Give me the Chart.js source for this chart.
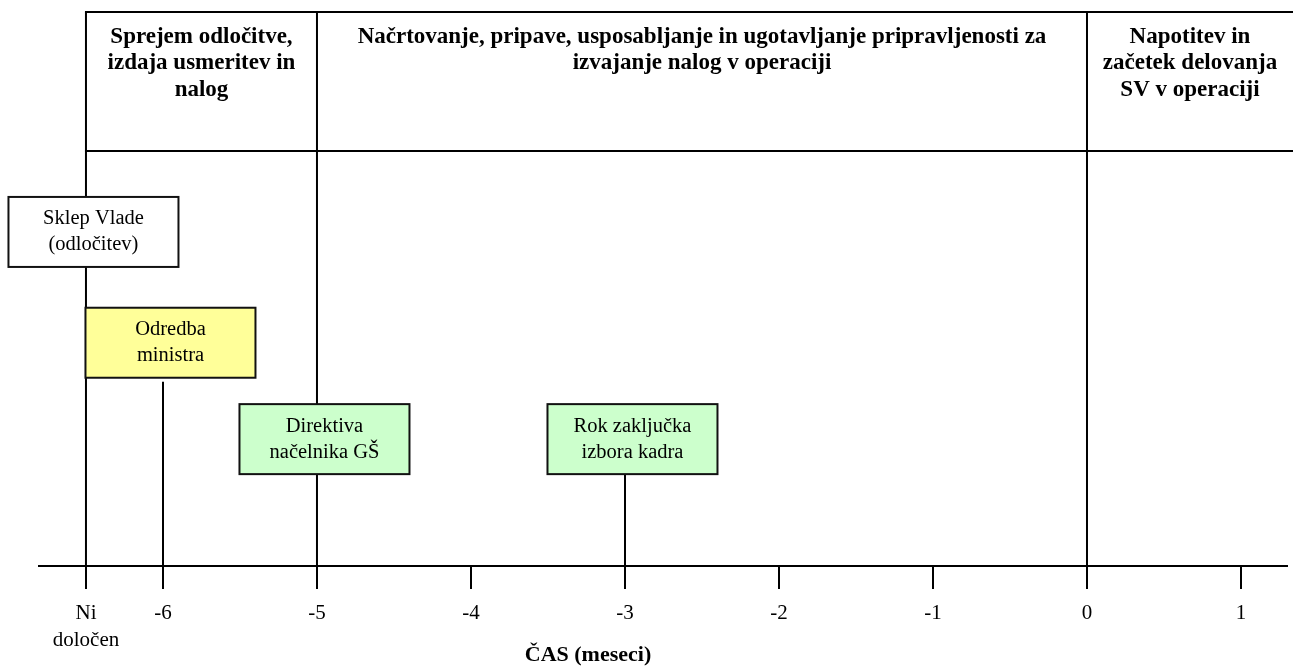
<!DOCTYPE html>
<html>
<head>
<meta charset="utf-8">
<script src="https://cdn.jsdelivr.net/npm/chart.js@4.4.1/dist/chart.umd.min.js"></script>
<style>
html,body{margin:0;padding:0;background:#fff;}
canvas{display:block;}
</style>
</head>
<body>
<canvas id="c" width="1293" height="666"></canvas>
<script>
// ---- data ----
const tickValues = [-6.5, -6, -5, -4, -3, -2, -1, 0, 1];
const tickLabels = [['Ni', 'določen'], '-6', '-5', '-4', '-3', '-2', '-1', '0', '1'];
const phaseBounds = [-6.5, -5, 0];
const phaseLabels = [
  ['Sprejem odločitve,', 'izdaja usmeritev in', 'nalog'],
  ['Načrtovanje, pripave, usposabljanje in ugotavljanje pripravljenosti za', 'izvajanje nalog v operaciji'],
  ['Napotitev in', 'začetek delovanja', 'SV v operaciji']
];
const eventLabels = [
  ['Sklep Vlade', '(odločitev)'],
  ['Odredba', 'ministra'],
  ['Direktiva', 'načelnika GŠ'],
  ['Rok zaključka', 'izbora kadra']
];
const eventMonths = [-6.5, -6, -5, -3];
const eventLevels = [6.03, 4.03, 2.29, 2.29];
const eventColors = ['#FFFFFF', '#FFFF99', '#CCFFCC', '#CCFFCC'];
const eventConnectorGap = [null, 4, null, 0];
const headerTop = 10;
const headerBottom = 7.49;
const axisTitle = 'ČAS (meseci)';

// ---- style ----
const SERIF = '"Liberation Serif", "Times New Roman", serif';
const BOX_W = 170, BOX_H = 70, BOX_DX = 7.5;

const dividerDatasets = phaseBounds.map(b => ({
  type: 'line',
  data: [{x: b, y: 0}, {x: b, y: headerTop}],
  borderColor: '#000',
  borderWidth: 2,
  pointRadius: 0,
  fill: false,
  clip: false,
  tension: 0
}));

const diagramPlugin = {
  id: 'diagram',
  beforeDatasetsDraw(chart) {
    const {ctx, scales: {x, y}} = chart;
    const top = y.getPixelForValue(headerTop);
    const bottom = y.getPixelForValue(headerBottom);
    const left = x.getPixelForValue(phaseBounds[0]);
    ctx.save();
    ctx.strokeStyle = '#000';
    ctx.lineWidth = 2;
    ctx.beginPath();
    ctx.moveTo(left - 1, top); ctx.lineTo(chart.width, top);
    ctx.moveTo(left - 1, bottom); ctx.lineTo(chart.width, bottom);
    ctx.stroke();
    ctx.fillStyle = '#000';
    ctx.font = 'bold 23px ' + SERIF;
    ctx.textAlign = 'center';
    ctx.textBaseline = 'middle';
    phaseLabels.forEach((lines, i) => {
      const x0 = x.getPixelForValue(phaseBounds[i]);
      const x1 = i + 1 < phaseBounds.length ? x.getPixelForValue(phaseBounds[i + 1]) : chart.width;
      const cx = (x0 + x1) / 2;
      lines.forEach((t, j) => ctx.fillText(t, cx, top + 25 + j * 26.5));
    });
    ctx.restore();
  },
  afterDatasetsDraw(chart) {
    const {ctx, scales: {x, y}} = chart;
    const axisY = y.getPixelForValue(0);
    ctx.save();
    eventMonths.forEach((m, i) => {
      const px = x.getPixelForValue(m);
      const py = y.getPixelForValue(eventLevels[i]);
      const bx = px + BOX_DX - BOX_W / 2;
      const by = py - BOX_H / 2;
      if (eventConnectorGap[i] !== null) {
        ctx.strokeStyle = '#000';
        ctx.lineWidth = 2;
        ctx.beginPath();
        ctx.moveTo(px, by + BOX_H + eventConnectorGap[i]);
        ctx.lineTo(px, axisY);
        ctx.stroke();
      }
      ctx.fillStyle = eventColors[i];
      ctx.fillRect(bx, by, BOX_W, BOX_H);
      ctx.strokeStyle = '#111';
      ctx.lineWidth = 2;
      ctx.strokeRect(bx, by, BOX_W, BOX_H);
      ctx.fillStyle = '#000';
      ctx.font = '20.5px ' + SERIF;
      ctx.textAlign = 'center';
      ctx.textBaseline = 'middle';
      const lines = eventLabels[i];
      lines.forEach((t, j) => ctx.fillText(t, px + BOX_DX, py + (j - (lines.length - 1) / 2) * 26));
    });
    ctx.restore();
  },
  afterDraw(chart) {
    const {ctx} = chart;
    ctx.save();
    ctx.fillStyle = '#000';
    ctx.font = 'bold 22px ' + SERIF;
    ctx.textAlign = 'center';
    ctx.textBaseline = 'middle';
    ctx.fillText(axisTitle, 588, 655);
    ctx.restore();
  }
};

new Chart(document.getElementById('c'), {
  type: 'scatter',
  data: { datasets: dividerDatasets },
  options: {
    responsive: false,
    animation: false,
    events: [],
    layout: { padding: { left: 39, right: 6, top: 12, bottom: 0 } },
    plugins: { legend: { display: false }, tooltip: { enabled: false }, title: { display: false } },
    scales: {
      x: {
        type: 'linear',
        position: 'bottom',
        min: -6.805,
        max: 1.2987,
        afterBuildTicks(scale) { scale.ticks = tickValues.map(v => ({value: v})); },
        afterFit(scale) { scale.height = 100; },
        border: { display: true, color: '#000', width: 2 },
        grid: { display: true, drawOnChartArea: false, drawTicks: true, tickLength: 23, color: '#000', lineWidth: 2 },
        ticks: {
          autoSkip: false,
          maxRotation: 0,
          minRotation: 0,
          padding: 11,
          color: '#000',
          font: { family: SERIF, size: 21, lineHeight: 1.3 },
          callback: (v, i) => tickLabels[i]
        }
      },
      y: {
        type: 'linear',
        display: false,
        min: 0,
        max: 10
      }
    }
  },
  plugins: [diagramPlugin]
});
</script>
</body>
</html>
